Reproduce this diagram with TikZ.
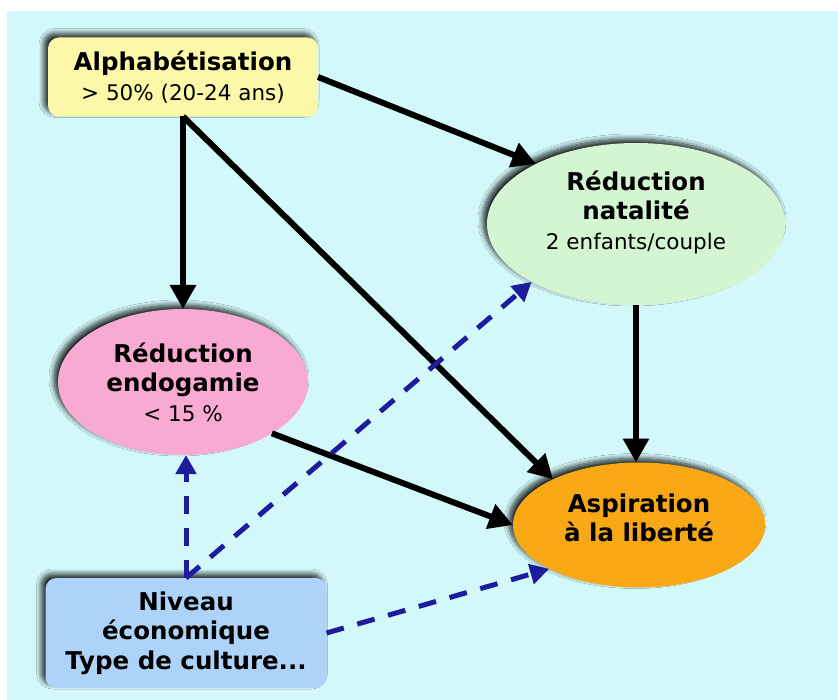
\documentclass[tikz,border=0pt]{standalone}
\usepackage{fontspec}
\setmainfont{DejaVu Sans}
\usetikzlibrary{shapes.geometric,arrows.meta,shadows.blur}

\definecolor{bgcyan}{HTML}{D3F8F9}
\definecolor{alphyellow}{HTML}{FBF9A8}
\definecolor{natalgreen}{HTML}{D4F5D2}
\definecolor{endogpink}{HTML}{F8AAD2}
\definecolor{aspirorange}{HTML}{F8A815}
\definecolor{niveaublue}{HTML}{ADD3F8}
\definecolor{dashblue}{HTML}{1C1C9C}

\newcommand{\subline}[1]{{\fontsize{21.5}{29}\selectfont\mdseries #1}}

\tikzset{
  softshadow/.style={blur shadow={shadow xshift=-4pt,shadow yshift=4pt,
      shadow blur radius=5pt,shadow blur steps=10,shadow opacity=85}},
  card/.style={rectangle,rounded corners=11pt,softshadow,outer sep=0pt,
    inner sep=0pt,align=center},
  blob/.style={ellipse,softshadow,outer sep=0pt,inner sep=0pt,align=center},
  ttl/.style={font=\fontsize{24.5}{29.5}\selectfont\bfseries,align=center},
  cause/.style={line width=6pt,-{Triangle[length=24pt,width=25pt]}},
  influence/.style={line width=5pt,dashblue,dash pattern=on 18pt off 14pt,
    -{Triangle[length=19pt,width=20pt]}},
}

\begin{document}
\begin{tikzpicture}[x=1pt,y=-1pt]
    \useasboundingbox (0,0) rectangle (838,700);
    \fill[bgcyan] (7,11) rectangle (838,700);
    % boxes and ellipses
    \node[card,ttl,fill=alphyellow,minimum width=270pt,minimum height=79pt]
      (alpha) at (183,77) {Alphabétisation\\\subline{> 50\% (20-24 ans)}};
    \node[blob,fill=natalgreen,minimum width=298pt,minimum height=162pt]
      (natal) at (636,224) {};
    \node[ttl] (natalt) at (636,212) {Réduction\\natalité\\\subline{2 enfants/couple}};
    \node[blob,ttl,fill=endogpink,minimum width=250pt,minimum height=146pt]
      (endog) at (183,382) {Réduction\\endogamie\\\subline{< 15 \%}};
    \node[blob,fill=aspirorange,minimum width=252pt,minimum height=125pt]
      (aspir) at (639,525) {};
    \node[ttl] (aspirt) at (639,518) {Aspiration\\à la liberté};
    \node[card,ttl,fill=niveaublue,minimum width=281pt,minimum height=110pt]
      (niveau) at (186,633) {Niveau\\économique\\Type de culture...};
    % solid links
    \draw[cause] (alpha.east) -- (natal.149);
    \draw[cause] (alpha.south) -- (endog.north);
    \draw[cause] (alpha.south) -- (aspir.152);
    \draw[cause] (natal.south) -- (natal.south |- aspir.north);
    \draw[cause] (endog.-30) -- (aspir.west);
    % dashed links
    \draw[influence] (niveau.north) -- (niveau.north |- endog.south);
    \draw[influence] (niveau.north) -- (natal.209);
    \draw[influence] (niveau.east) -- (aspir.206);
\end{tikzpicture}
\end{document}
